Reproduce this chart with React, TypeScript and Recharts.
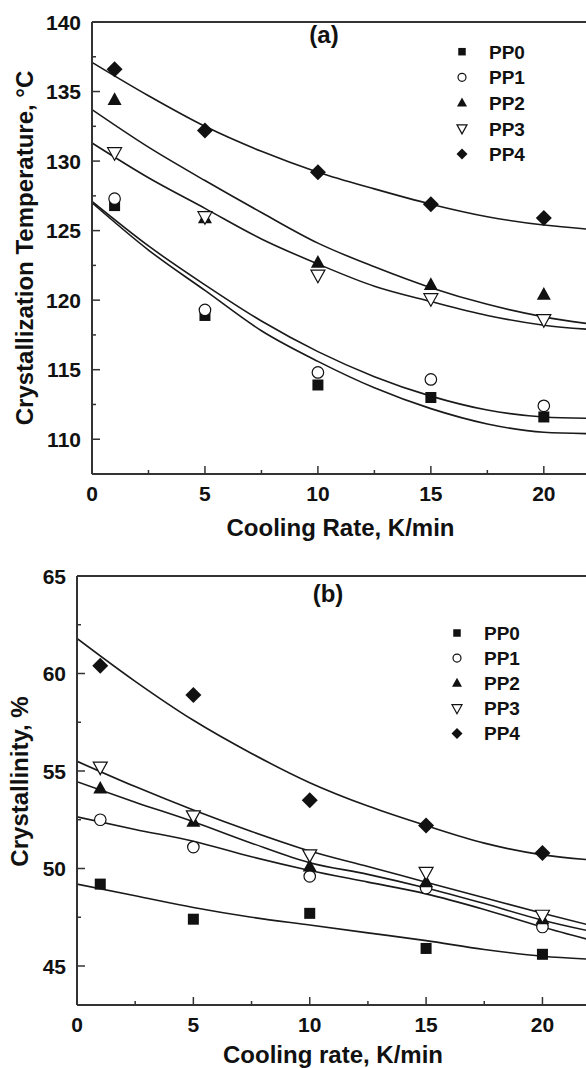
import React from "react"
import { ComposedChart, Line, Scatter, XAxis, YAxis, ReferenceLine, Label } from "recharts"

const seriesNames = ["PP0", "PP1", "PP2", "PP3", "PP4"]
const markerKinds = ["square", "circle", "triangle", "triangleDown", "diamond"]

const measuredRates = [1, 5, 10, 15, 20]
const fitRates = [0, 2.5, 5, 7.5, 10, 12.5, 15, 17.5, 20, 22]
const rateTicks = [0, 2.5, 5, 7.5, 10, 12.5, 15, 17.5, 20]
const tcTicks = [110, 112.5, 115, 117.5, 120, 122.5, 125, 127.5, 130, 132.5, 135, 137.5, 140]
const xcTicks = [45, 47.5, 50, 52.5, 55, 57.5, 60, 62.5, 65]

// (a) crystallization temperature, °C
const tcPP0 = [126.8, 118.9, 113.9, 113.0, 111.6]
const tcPP1 = [127.3, 119.3, 114.8, 114.3, 112.4]
const tcPP2 = [134.4, 125.9, 122.7, 121.1, 120.4]
const tcPP3 = [130.6, 126.0, 121.8, 120.1, 118.6]
const tcPP4 = [136.6, 132.2, 129.2, 126.9, 125.9]

const tcFitPP0 = [127.0, 123.6, 120.7, 117.8, 115.6, 113.7, 112.2, 111.1, 110.5, 110.4]
const tcFitPP1 = [127.1, 123.9, 121.1, 118.5, 116.3, 114.5, 113.1, 112.1, 111.6, 111.5]
const tcFitPP2 = [133.7, 131.0, 128.6, 126.3, 124.1, 122.4, 120.9, 119.7, 118.8, 118.3]
const tcFitPP3 = [131.3, 128.8, 126.6, 124.4, 122.6, 121.0, 119.9, 118.9, 118.2, 117.9]
const tcFitPP4 = [137.1, 134.7, 132.5, 130.7, 129.2, 128.0, 126.9, 126.0, 125.4, 125.1]

// (b) crystallinity, %
const xcPP0 = [49.2, 47.4, 47.7, 45.9, 45.6]
const xcPP1 = [52.5, 51.1, 49.6, 49.0, 47.0]
const xcPP2 = [54.1, 52.4, 50.1, 49.3, 47.4]
const xcPP3 = [55.2, 52.7, 50.7, 49.8, 47.6]
const xcPP4 = [60.4, 58.9, 53.5, 52.2, 50.8]

const xcFitPP0 = [49.2, 48.6, 48.0, 47.5, 47.1, 46.7, 46.3, 45.85, 45.5, 45.35]
const xcFitPP1 = [52.65, 52.0, 51.4, 50.6, 49.9, 49.3, 48.7, 47.9, 47.0, 46.35]
const xcFitPP2 = [54.45, 53.4, 52.4, 51.3, 50.3, 49.7, 49.0, 48.2, 47.35, 46.8]
const xcFitPP3 = [55.5, 54.2, 53.0, 51.9, 50.9, 50.1, 49.3, 48.5, 47.7, 47.1]
const xcFitPP4 = [61.8, 59.6, 57.6, 55.9, 54.4, 53.2, 52.2, 51.3, 50.7, 50.45]

const FONT = '"Liberation Sans", Arial, Helvetica, sans-serif'
const INK = "#111"
const AXIS = "#333"

const toPoints = (xs: number[], ys: number[]) => xs.map((x, i) => ({ x, y: ys[i] }))

function Marker({ kind, cx, cy, s }: { kind: string; cx: number; cy: number; s: number }) {
  const h = s * 0.9
  switch (kind) {
    case "square":
      return <rect x={cx - s / 2} y={cy - s / 2} width={s} height={s} fill={INK} />
    case "circle":
      return <circle cx={cx} cy={cy} r={s / 2} fill="#fff" stroke={INK} strokeWidth={1.2} />
    case "triangle":
      return (
        <polygon
          points={`${cx},${cy - h * 0.6} ${cx + s / 2},${cy + h * 0.4} ${cx - s / 2},${cy + h * 0.4}`}
          fill={INK}
        />
      )
    case "triangleDown":
      return (
        <polygon
          points={`${cx},${cy + h * 0.6} ${cx + s / 2},${cy - h * 0.4} ${cx - s / 2},${cy - h * 0.4}`}
          fill="#fff"
          stroke={INK}
          strokeWidth={1.2}
        />
      )
    default:
      return (
        <polygon points={`${cx},${cy - s / 2} ${cx + s / 2},${cy} ${cx},${cy + s / 2} ${cx - s / 2},${cy}`} fill={INK} />
      )
  }
}

const plotSizes: Record<string, number> = { square: 11, circle: 11.5, triangle: 14, triangleDown: 14, diamond: 16 }
const legendSizes: Record<string, number> = { square: 7.5, circle: 8, triangle: 10, triangleDown: 10, diamond: 11 }

function YTick(props: any) {
  const { x, y, payload } = props
  const major = payload.value % 5 === 0
  return (
    <g>
      <line x1={x} x2={x + (major ? 8 : 4)} y1={y} y2={y} stroke={AXIS} strokeWidth={1.5} />
      {major && (
        <text x={x - 11} y={y + 7.5} textAnchor="end" fontFamily={FONT} fontWeight="bold" fontSize={21} fill={INK}>
          {payload.value}
        </text>
      )}
    </g>
  )
}

function XTick(props: any) {
  const { x, y, payload } = props
  const major = payload.value % 5 === 0
  return (
    <g>
      <line x1={x} x2={x} y1={y} y2={y - (major ? 8 : 4)} stroke={AXIS} strokeWidth={1.5} />
      {major && (
        <text x={x} y={y + 27} textAnchor="middle" fontFamily={FONT} fontWeight="bold" fontSize={21} fill={INK}>
          {payload.value}
        </text>
      )}
    </g>
  )
}

function yTitle(text: string, baseX: number, shift: number) {
  return (p: any) => {
    const vb = p.viewBox
    const cy = vb.y + vb.height / 2 + shift
    return (
      <text
        x={baseX}
        y={cy}
        transform={`rotate(-90 ${baseX} ${cy})`}
        textAnchor="middle"
        fontFamily={FONT}
        fontWeight="bold"
        fontSize={24}
        fill={INK}
      >
        {text}
      </text>
    )
  }
}

interface PanelProps {
  width: number
  height: number
  margin: { top: number; right: number; left: number; bottom: number }
  yWidth: number
  xHeight: number
  yDomain: [number, number]
  yTicks: number[]
  measured: number[][]
  fits: number[][]
  xTitle: string
  xTitleOffset: number
  yTitleText: string
  yTitleX: number
  yTitleShift: number
}

function Panel(p: PanelProps) {
  return (
    <ComposedChart width={p.width} height={p.height} margin={p.margin}>
      <XAxis
        dataKey="x"
        type="number"
        domain={[0, 22]}
        ticks={rateTicks}
        interval={0}
        allowDataOverflow
        height={p.xHeight}
        tickSize={0}
        tickMargin={0}
        tickLine={false}
        axisLine={{ stroke: AXIS, strokeWidth: 2 }}
        tick={(t: any) => <XTick {...t} />}
      >
        <Label
          value={p.xTitle}
          position="insideBottom"
          offset={p.xTitleOffset}
          fontFamily={FONT}
          fontWeight="bold"
          fontSize={24}
          fill={INK}
        />
      </XAxis>
      <YAxis
        type="number"
        domain={p.yDomain}
        ticks={p.yTicks}
        interval={0}
        allowDataOverflow
        width={p.yWidth}
        tickSize={0}
        tickMargin={0}
        tickLine={false}
        axisLine={{ stroke: AXIS, strokeWidth: 2 }}
        tick={(t: any) => <YTick {...t} />}
      >
        <Label content={yTitle(p.yTitleText, p.yTitleX, p.yTitleShift)} />
      </YAxis>
      <ReferenceLine y={p.yDomain[1]} stroke={AXIS} strokeWidth={2} ifOverflow="visible" />
      {p.fits.map((f, i) => (
        <Line
          key={"fit" + i}
          data={toPoints(fitRates, f)}
          dataKey="y"
          type="monotone"
          stroke="#1a1a1a"
          strokeWidth={1.6}
          dot={false}
          activeDot={false}
          legendType="none"
          isAnimationActive={false}
        />
      ))}
      {p.measured.map((m, i) => (
        <Scatter
          key={seriesNames[i]}
          name={seriesNames[i]}
          data={toPoints(measuredRates, m)}
          dataKey="y"
          isAnimationActive={false}
          shape={(s: any) => <Marker kind={markerKinds[i]} cx={s.cx} cy={s.cy} s={plotSizes[markerKinds[i]]} />}
        />
      ))}
    </ComposedChart>
  )
}

function LegendBlock({ x, y, step }: { x: number; y: number; step: number }) {
  return (
    <g>
      {seriesNames.map((n, i) => (
        <g key={n}>
          <Marker kind={markerKinds[i]} cx={x} cy={y + i * step} s={legendSizes[markerKinds[i]]} />
          <text x={x + 27} y={y + i * step + 7} fontFamily={FONT} fontWeight="bold" fontSize={19} fill={INK}>
            {n}
          </text>
        </g>
      ))}
    </g>
  )
}

export default function App() {
  return (
    <div style={{ position: "fixed", left: 0, top: 0, width: 586, height: 1068, overflow: "hidden", background: "#fff" }}>
      <div style={{ position: "absolute", left: 0, top: 0 }}>
        <Panel
          width={600}
          height={545}
          margin={{ top: 22, right: 11, left: 0, bottom: 0 }}
          yWidth={92}
          xHeight={71}
          yDomain={[107.5, 140]}
          yTicks={tcTicks}
          measured={[tcPP0, tcPP1, tcPP2, tcPP3, tcPP4]}
          fits={[tcFitPP0, tcFitPP1, tcFitPP2, tcFitPP3, tcFitPP4]}
          xTitle="Cooling Rate, K/min"
          xTitleOffset={9}
          yTitleText="Crystallization Temperature, °C"
          yTitleX={33}
          yTitleShift={0}
        />
      </div>
      <div style={{ position: "absolute", left: 0, top: 545 }}>
        <Panel
          width={600}
          height={523}
          margin={{ top: 31, right: 11, left: 0, bottom: 0 }}
          yWidth={77}
          xHeight={63}
          yDomain={[43, 65]}
          yTicks={xcTicks}
          measured={[xcPP0, xcPP1, xcPP2, xcPP3, xcPP4]}
          fits={[xcFitPP0, xcFitPP1, xcFitPP2, xcFitPP3, xcFitPP4]}
          xTitle="Cooling rate, K/min"
          xTitleOffset={5}
          yTitleText="Crystallinity, %"
          yTitleX={28}
          yTitleShift={-9}
        />
      </div>
      <svg width={586} height={1068} style={{ position: "absolute", left: 0, top: 0, pointerEvents: "none" }}>
        <text x={324} y={43} textAnchor="middle" fontFamily={FONT} fontWeight="bold" fontSize={24} fill={INK}>
          (a)
        </text>
        <text x={328} y={602} textAnchor="middle" fontFamily={FONT} fontWeight="bold" fontSize={24} fill={INK}>
          (b)
        </text>
        <LegendBlock x={462} y={51.7} step={25.6} />
        <LegendBlock x={457} y={633} step={25.1} />
      </svg>
    </div>
  )
}
